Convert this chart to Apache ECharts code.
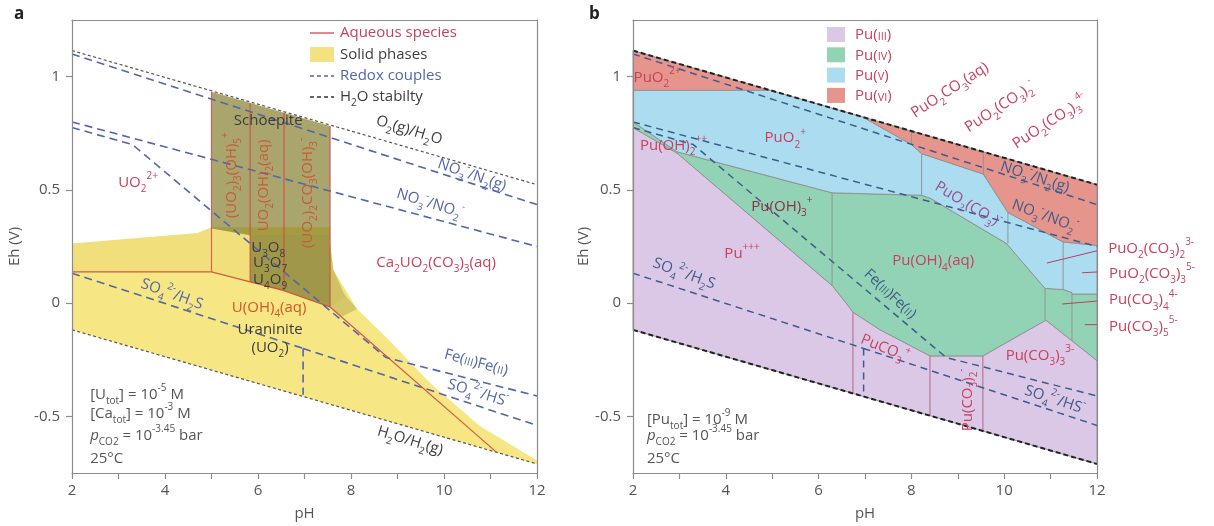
<!DOCTYPE html>
<html><head><meta charset="utf-8">
<script src="https://cdn.jsdelivr.net/npm/echarts@6/dist/echarts.min.js"></script>
<style>html,body{margin:0;padding:0;background:#fff}#c{width:1214px;height:526px}</style>
</head><body><div id="c"></div>
<script>
// ================= DATA =================
const PH_TICKS = [2, 4, 6, 8, 10, 12];
const EH_TICKS = [-0.5, 0, 0.5, 1];

// water stability and redox couples (pH, Eh)
const H2O_UPPER = [[2, 1.115], [12, 0.523]];
const H2O_LOWER = [[2, -0.118], [12, -0.71]];
const NO3_N2 = [[2, 1.10], [12, 0.435]];
const NO3_NO2 = [[2, 0.80], [12, 0.25]];
const FE3_FE2 = [[2, 0.775], [3.3, 0.70], [8.75, -0.24], [12, -0.41]];
const SO4_H2S = [[2, 0.132], [6.97, -0.20]];
const SO4_HS = [[6.97, -0.20], [12, -0.54]];
const SO4_STEP = [[6.97, -0.20], [6.97, -0.405]];

// ---- panel a: uranium ----
const U_AQ_BOUNDARY = [[2, 0.138], [5.0, 0.138], [6.54, 0.056], [7.55, -0.017], [11.14, -0.66]];
const U_AQ_VERTICALS = [
  [[5.0, 0.138], [5.0, 0.933]],
  [[5.83, 0.094], [5.83, 0.884]],
  [[6.56, 0.055], [6.56, 0.842]],
  [[7.55, -0.017], [7.55, 0.782]]
];
const URANINITE = [[2, 0.263], [4.7, 0.31], [5.0, 0.335], [7.55, 0.335], [7.55, 0.26], [7.62, 0.147],
  [8.13, -0.026], [8.84, -0.168], [9.70, -0.353], [10.77, -0.543], [12, -0.695], [12, -0.71], [2, -0.118]];
const U_MIXED_OXIDES = [[2, 0.263], [4.7, 0.31], [5.0, 0.335], [7.55, 0.335], [7.55, 0.26], [7.62, 0.147],
  [7.9, 0.03], [7.55, -0.017], [6.54, 0.056], [5.0, 0.138], [2, 0.138]];
const SCHOEPITE = [[5.0, 0.933], [7.55, 0.782], [7.55, -0.017], [6.54, 0.056], [5.83, 0.094], [5.83, 0.30], [5.0, 0.33]];
const U3O8_ZONE = [[5.83, 0.30], [7.55, 0.30], [7.55, -0.017], [6.54, 0.056], [5.83, 0.094]];
const U_FAN = [[7.55, 0.26], [7.62, 0.147], [7.85, 0.04], [8.13, -0.026], [7.8, -0.06], [7.55, -0.017]];

// ---- panel b: plutonium ----
const PU6_LOW = [[2, 1.115], [4.95, 0.94], [2, 0.94]];
const PU6_HIGH = [[6.95, 0.822], [12, 0.523], [12, 0.255], [11.27, 0.27], [10.08, 0.40], [9.55, 0.57], [8.22, 0.66], [8.0, 0.70]];
const PU5 = [[2, 0.94], [4.95, 0.94], [6.95, 0.822], [8.0, 0.70], [8.22, 0.66], [9.55, 0.57], [10.08, 0.40], [11.27, 0.27],
  [12, 0.255], [12, 0.04], [11.46, 0.04], [11.46, 0.047], [11.27, 0.06], [10.88, 0.065], [10.05, 0.263], [8.40, 0.464],
  [8.22, 0.476], [6.29, 0.487], [2.95, 0.668], [2, 0.80]];
const PU4 = [[2, 0.80], [2.95, 0.668], [6.29, 0.487], [8.22, 0.476], [8.40, 0.464], [10.05, 0.263], [10.88, 0.065], [11.27, 0.06],
  [11.46, 0.047], [11.46, 0.04], [12, 0.04], [12, -0.254], [10.9, -0.075], [9.54, -0.233], [8.40, -0.233], [7.32, -0.117],
  [6.74, -0.04], [6.61, -0.004], [6.29, 0.078], [2.95, 0.662], [2, 0.775]];
const PU3 = [[2, 0.775], [2.95, 0.662], [6.29, 0.078], [6.61, -0.004], [6.74, -0.04], [7.32, -0.117], [8.40, -0.233],
  [9.54, -0.233], [10.9, -0.075], [12, -0.254], [12, -0.71], [2, -0.118]];
const PU_EDGES = [
  [[6.29, 0.078], [6.29, 0.487]], [[8.22, 0.476], [8.22, 0.66]], [[10.08, 0.263], [10.08, 0.40]],
  [[11.27, 0.06], [11.27, 0.27]], [[10.88, -0.075], [10.88, 0.065]], [[11.46, -0.165], [11.46, 0.04]],
  [[8.0, 0.70], [8.0, 0.76]], [[9.55, 0.57], [9.55, 0.668]]
];
const PU3_EDGES = [[[6.74, -0.04], [6.74, -0.399]], [[8.40, -0.233], [8.40, -0.497]], [[9.54, -0.233], [9.54, -0.565]]];
const PU_LEADERS = [
  [[10.92, 0.177], [12.2, 0.241]], [[11.68, 0.134], [12.22, 0.14]],
  [[11.25, -0.004], [12.22, 0.013]], [[11.74, -0.095], [12.22, -0.095]]
];

// ================= STYLE / LAYOUT =================
const FF = '"Open Sans", "Noto Sans", sans-serif';
const CRIM = '#c8405f', DARK = '#3c3c3c', BLUE = '#5266aa', BLUE2 = '#3e5b8c', ORG = '#c85a3c', ORG2 = '#d0582c',
  MAROON = '#8c2f48', PURP = '#9a4f8f', GREY = '#555';
const YEL = '#f6e684';
const C_PU3 = '#dac8e6', C_PU4 = '#93d3b5', C_PU5 = '#abdcf0', C_PU6 = '#e6958d';

function rich(s, w) {
  const f = (sz, st) => (st || '') + ' ' + sz + 'px ' + FF;
  const sm = Math.round(s * 0.68);
  return {
    n: { font: f(s, w), lineHeight: s + 8 },
    i: { font: f(s, 'italic'), lineHeight: s + 8 },
    b: { font: f(sm), verticalAlign: 'bottom', lineHeight: sm + 1 },
    p: { font: f(sm), verticalAlign: 'top', lineHeight: sm + 1 },
    c: { font: f(Math.round(s * 0.7)), padding: [3, 0, 0, 0] }
  };
}
function rt(s) {
  let out = '', buf = '', i = 0;
  const flush = () => { if (buf) { out += '{n|' + buf + '}'; buf = ''; } };
  while (i < s.length) {
    const ch = s[i];
    if (ch === '_' || ch === '^' || ch === '~' || ch === '%') {
      flush();
      const tag = { '_': 'b', '^': 'p', '~': 'c', '%': 'i' }[ch];
      let content;
      if (s[i + 1] === '{') { const j = s.indexOf('}', i + 2); content = s.slice(i + 2, j); i = j + 1; }
      else { content = s[i + 1]; i += 2; }
      out += '{' + tag + '|' + content + '}';
    } else { buf += ch; i++; }
  }
  flush();
  return out;
}

const LABELS_U = [
  { x: 3.42, y: 0.53, t: 'UO_2^{2+}', c: CRIM },
  { x: 6.22, y: 0.806, t: 'Schoepite', c: DARK },
  { x: 5.44, y: 0.565, t: '(UO_2)_3(OH)_5^+', c: ORG, r: 90 },
  { x: 6.13, y: 0.52, t: 'UO_2(OH)_2(aq)', c: ORG, r: 90 },
  { x: 7.07, y: 0.487, t: '(UO_2)_2CO_3(OH)_3^-', c: ORG, r: 90 },
  { x: 6.22, y: 0.246, t: 'U_3O_8', c: DARK },
  { x: 6.26, y: 0.177, t: 'U_3O_7', c: DARK },
  { x: 6.26, y: 0.103, t: 'U_4O_9', c: DARK },
  { x: 6.24, y: -0.02, t: 'U(OH)_4(aq)', c: ORG2 },
  { x: 6.26, y: -0.116, t: 'Uraninite', c: DARK },
  { x: 6.26, y: -0.198, t: '(UO_2)', c: DARK },
  { x: 9.83, y: 0.177, t: 'Ca_2UO_2(CO_3)_3(aq)', c: CRIM },
  { x: 9.25, y: 0.763, t: 'O_2(g)/H_2O', c: DARK, r: -17 },
  { x: 10.6, y: 0.565, t: 'NO_3^-/N_2(g)', c: BLUE, r: -19 },
  { x: 9.70, y: 0.44, t: 'NO_3^-/NO_2^-', c: BLUE, r: -17 },
  { x: 4.15, y: 0.039, t: 'SO_4^{2-}/H_2S', c: BLUE, r: -20 },
  { x: 10.69, y: -0.263, t: 'Fe(~{III})Fe(~{II})', c: BLUE, r: -15 },
  { x: 10.73, y: -0.397, t: 'SO_4^{2-}/HS^-', c: BLUE, r: -17 },
  { x: 9.27, y: -0.608, t: 'H_2O/H_2(g)', c: DARK, r: -17 },
  { x: 2.39, y: -0.405, t: '[U_{tot}] = 10^{-5} M', c: GREY, a: 'left' },
  { x: 2.39, y: -0.49, t: '[Ca_{tot}] = 10^{-3} M', c: GREY, a: 'left' },
  { x: 2.39, y: -0.586, t: '%p_{CO2} = 10^{-3.45} bar', c: GREY, a: 'left' },
  { x: 2.39, y: -0.685, t: '25°C', c: GREY, a: 'left' }
];
const LABELS_PU = [
  { x: 2.52, y: 0.996, t: 'PuO_2^{2+}', c: CRIM },
  { x: 5.28, y: 0.728, t: 'PuO_2^+', c: CRIM },
  { x: 2.15, y: 0.694, t: 'Pu(OH)_2^{++}', c: CRIM, a: 'left' },
  { x: 5.21, y: 0.427, t: 'Pu(OH)_3^+', c: MAROON },
  { x: 4.35, y: 0.22, t: 'Pu^{+++}', c: CRIM },
  { x: 3.10, y: 0.13, t: 'SO_4^{2-}/H_2S', c: BLUE2, r: -20 },
  { x: 7.54, y: 0.04, t: 'Fe(~{III})Fe(~{II})', c: BLUE2, r: -43 },
  { x: 8.47, y: 0.185, t: 'Pu(OH)_4(aq)', c: CRIM },
  { x: 7.43, y: -0.2, t: 'PuCO_3^+', c: CRIM, r: -22 },
  { x: 9.22, y: -0.427, t: 'Pu(CO_3)_2^-', c: CRIM, r: 90 },
  { x: 10.77, y: -0.233, t: 'Pu(CO_3)_3^{3-}', c: CRIM },
  { x: 8.83, y: 0.94, t: 'PuO_2CO_3(aq)', c: CRIM, r: 33 },
  { x: 9.91, y: 0.866, t: 'PuO_2(CO_3)_2^-', c: CRIM, r: 33 },
  { x: 10.99, y: 0.80, t: 'PuO_2(CO_3)_3^{4-}', c: CRIM, r: 33 },
  { x: 10.66, y: 0.556, t: 'NO_3^-/N_2(g)', c: BLUE2, r: -18 },
  { x: 10.88, y: 0.384, t: 'NO_3^-/NO_2^-', c: BLUE2, r: -20 },
  { x: 9.22, y: 0.435, t: 'PuO_2(CO_3)^-', c: PURP, r: -31 },
  { x: 11.09, y: -0.427, t: 'SO_4^{2-}/HS^-', c: BLUE2, r: -18 },
  { x: 12.24, y: 0.241, t: 'PuO_2(CO_3)_2^{3-}', c: CRIM, a: 'left' },
  { x: 12.26, y: 0.13, t: 'PuO_2(CO_3)_3^{5-}', c: CRIM, a: 'left' },
  { x: 12.26, y: 0.013, t: 'Pu(CO_3)_4^{4-}', c: CRIM, a: 'left' },
  { x: 12.26, y: -0.103, t: 'Pu(CO_3)_5^{5-}', c: CRIM, a: 'left' },
  { x: 2.30, y: -0.513, t: '[Pu_{tot}] = 10^{-9} M', c: GREY, a: 'left' },
  { x: 2.30, y: -0.586, t: '%p_{CO2} = 10^{-3.45} bar', c: GREY, a: 'left' },
  { x: 2.30, y: -0.685, t: '25°C', c: GREY, a: 'left' }
];

// ================= BUILDERS =================
function poly(gi, pts, fill, stroke, lw) {
  return {
    type: 'custom', xAxisIndex: gi, yAxisIndex: gi, silent: true, animation: false, z: 1,
    data: [pts[0]],
    renderItem: (params, api) => ({
      type: 'polygon', shape: { points: pts.map(p => api.coord(p)) },
      style: { fill: fill, stroke: stroke || null, lineWidth: lw || 0, lineJoin: 'round' }
    })
  };
}
function ln(gi, data, color, width, dash, z, clip) {
  return {
    type: 'line', xAxisIndex: gi, yAxisIndex: gi, data: data, symbol: 'none', silent: true, animation: false,
    lineStyle: { color: color, width: width, type: dash || 'solid' }, z: z || 3, clip: clip !== false
  };
}
function labels(gi, list) {
  return {
    type: 'custom', xAxisIndex: gi, yAxisIndex: gi, silent: true, animation: false, z: 6, clip: false,
    data: list.map(l => [l.x, l.y]),
    renderItem: (params, api) => {
      const l = list[params.dataIndex];
      const p = api.coord([l.x, l.y]);
      const s = l.s || 15;
      return {
        type: 'text', x: p[0], y: p[1], rotation: (l.r || 0) * Math.PI / 180,
        style: { text: rt(l.t), fill: l.c, font: s + 'px ' + FF, align: l.a || 'center', verticalAlign: 'middle', rich: rich(s) }
      };
    }
  };
}
const AX = '#8c8c8c';
function xAx(gi) {
  return {
    gridIndex: gi, type: 'value', min: PH_TICKS[0], max: PH_TICKS[PH_TICKS.length - 1], interval: 2, z: 10,
    axisLine: { show: true, onZero: false, lineStyle: { color: AX, width: 1.2 } },
    axisTick: { show: true, length: 6, lineStyle: { color: AX, width: 1.2 } },
    minorTick: { show: true, splitNumber: 2, length: 6, lineStyle: { color: AX, width: 1.2 } },
    splitLine: { show: false },
    axisLabel: { color: GREY, fontSize: 15, fontFamily: FF, margin: 10 },
    name: 'pH', nameLocation: 'middle', nameGap: 33, nameTextStyle: { color: GREY, fontSize: 15, fontFamily: FF }
  };
}
function yAx(gi, gap) {
  return {
    gridIndex: gi, type: 'value', min: -0.75, max: 1.25, z: 10,
    axisLine: { show: true, onZero: false, lineStyle: { color: AX, width: 1.2 } },
    axisTick: { show: true, length: 6, customValues: EH_TICKS, lineStyle: { color: AX, width: 1.2 } },
    splitLine: { show: false },
    axisLabel: { color: GREY, fontSize: 15, fontFamily: FF, margin: 12, customValues: EH_TICKS },
    name: 'Eh (V)', nameLocation: 'middle', nameGap: gap, nameTextStyle: { color: GREY, fontSize: 15, fontFamily: FF }
  };
}
function frameX(gi) {
  return { gridIndex: gi, type: 'value', min: 2, max: 12, position: 'top', z: 10,
    axisLine: { show: true, onZero: false, lineStyle: { color: AX, width: 1.2 } },
    axisTick: { show: false }, axisLabel: { show: false }, splitLine: { show: false } };
}
function frameY(gi) {
  return { gridIndex: gi, type: 'value', min: -0.75, max: 1.25, position: 'right', z: 10,
    axisLine: { show: true, onZero: false, lineStyle: { color: AX, width: 1.2 } },
    axisTick: { show: false }, axisLabel: { show: false }, splitLine: { show: false } };
}

const series = [];
// ---- panel a ----
series.push(poly(0, URANINITE, YEL));
series.push(poly(0, U_MIXED_OXIDES, 'rgba(200,175,50,0.12)'));
series.push(poly(0, SCHOEPITE, 'rgba(130,122,40,0.68)'));
series.push(poly(0, U3O8_ZONE, 'rgba(120,120,120,0.12)'));
series.push(poly(0, U_FAN, 'rgba(150,140,55,0.35)'));
series.push(ln(0, H2O_UPPER, '#555', 1.2, [3, 2.5]));
series.push(ln(0, H2O_LOWER, '#555', 1.2, [3, 2.5]));
[NO3_N2, NO3_NO2, FE3_FE2, SO4_H2S, SO4_HS, SO4_STEP].forEach(d => series.push(ln(0, d, BLUE, 1.6, [8, 5])));
series.push(ln(0, U_AQ_BOUNDARY, 'rgba(205,65,60,0.85)', 1.2));
U_AQ_VERTICALS.forEach(d => series.push(ln(0, d, 'rgba(210,70,70,0.8)', 1.2)));
series.push(labels(0, LABELS_U));
// ---- panel b ----
const PSTROKE = '#8e8e8e';
series.push(poly(1, PU3, C_PU3, PSTROKE, 0.9));
series.push(poly(1, PU4, C_PU4, PSTROKE, 0.9));
series.push(poly(1, PU5, C_PU5, PSTROKE, 0.9));
series.push(poly(1, PU6_LOW, C_PU6, PSTROKE, 0.9));
series.push(poly(1, PU6_HIGH, C_PU6, PSTROKE, 0.9));
PU_EDGES.forEach(d => series.push(ln(1, d, PSTROKE, 0.9, 'solid', 2)));
PU3_EDGES.forEach(d => series.push(ln(1, d, '#b47090', 1.1, 'solid', 2)));
[NO3_N2, NO3_NO2, FE3_FE2, SO4_H2S, SO4_HS, SO4_STEP].forEach(d => series.push(ln(1, d, BLUE2, 1.5, [7, 5])));
series.push(ln(1, H2O_UPPER, '#222', 2, [5, 3]));
series.push(ln(1, H2O_LOWER, '#222', 2, [5, 3]));
PU_LEADERS.forEach(d => series.push(ln(1, d, '#b84060', 1, 'solid', 4, false)));
series.push(labels(1, LABELS_PU));

// ---- legends (page layout) ----
const tf = (s, w) => (w || '') + ' ' + s + 'px ' + FF;
function gtext(x, y, t, c, s, w) {
  return { type: 'text', x: x, y: y, z: 20, style: { text: rt(t), fill: c, font: tf(s || 15, w), verticalAlign: 'middle', rich: rich(s || 15, w) } };
}
const graphic = [
  gtext(14, 14, 'a', '#222', 17, 'bold'),
  gtext(589, 14, 'b', '#222', 17, 'bold'),
  { type: 'line', z: 20, shape: { x1: 310, y1: 33, x2: 334, y2: 33 }, style: { stroke: '#d04a55', lineWidth: 1.3 } },
  gtext(340, 33, 'Aqueous species', CRIM),
  { type: 'rect', z: 20, shape: { x: 310, y: 47, width: 24, height: 15 }, style: { fill: '#f3e27f' } },
  gtext(340, 55, 'Solid phases', DARK),
  { type: 'line', z: 20, shape: { x1: 310, y1: 76, x2: 334, y2: 76 }, style: { stroke: BLUE, lineWidth: 1.4, lineDash: [4, 3] } },
  gtext(340, 76, 'Redox couples', BLUE),
  { type: 'line', z: 20, shape: { x1: 310, y1: 97, x2: 334, y2: 97 }, style: { stroke: '#333', lineWidth: 1.4, lineDash: [4, 3] } },
  gtext(340, 97, 'H_2O stabilty', DARK)
];
[[C_PU3, 'Pu(~{III})'], [C_PU4, 'Pu(~{IV})'], [C_PU5, 'Pu(~{V})'], [C_PU6, 'Pu(~{VI})']].forEach((e, k) => {
  graphic.push({ type: 'rect', z: 20, shape: { x: 827, y: 27 + k * 20.3, width: 18, height: 15 }, style: { fill: e[0] } });
  graphic.push(gtext(855, 35 + k * 20.3, e[1], CRIM));
});

const chart = echarts.init(document.getElementById('c'), null, { renderer: 'canvas' });
chart.setOption({
  animation: false,
  backgroundColor: '#fff',
  grid: [
    { left: 72, top: 20, width: 465, height: 465 },
    { left: 633, top: 20, width: 464, height: 465 }
  ],
  xAxis: [xAx(0), xAx(1), frameX(0), frameX(1)],
  yAxis: [yAx(0, 50), yAx(1, 37), frameY(0), frameY(1)],
  series: series,
  graphic: graphic
});
</script></body></html>
